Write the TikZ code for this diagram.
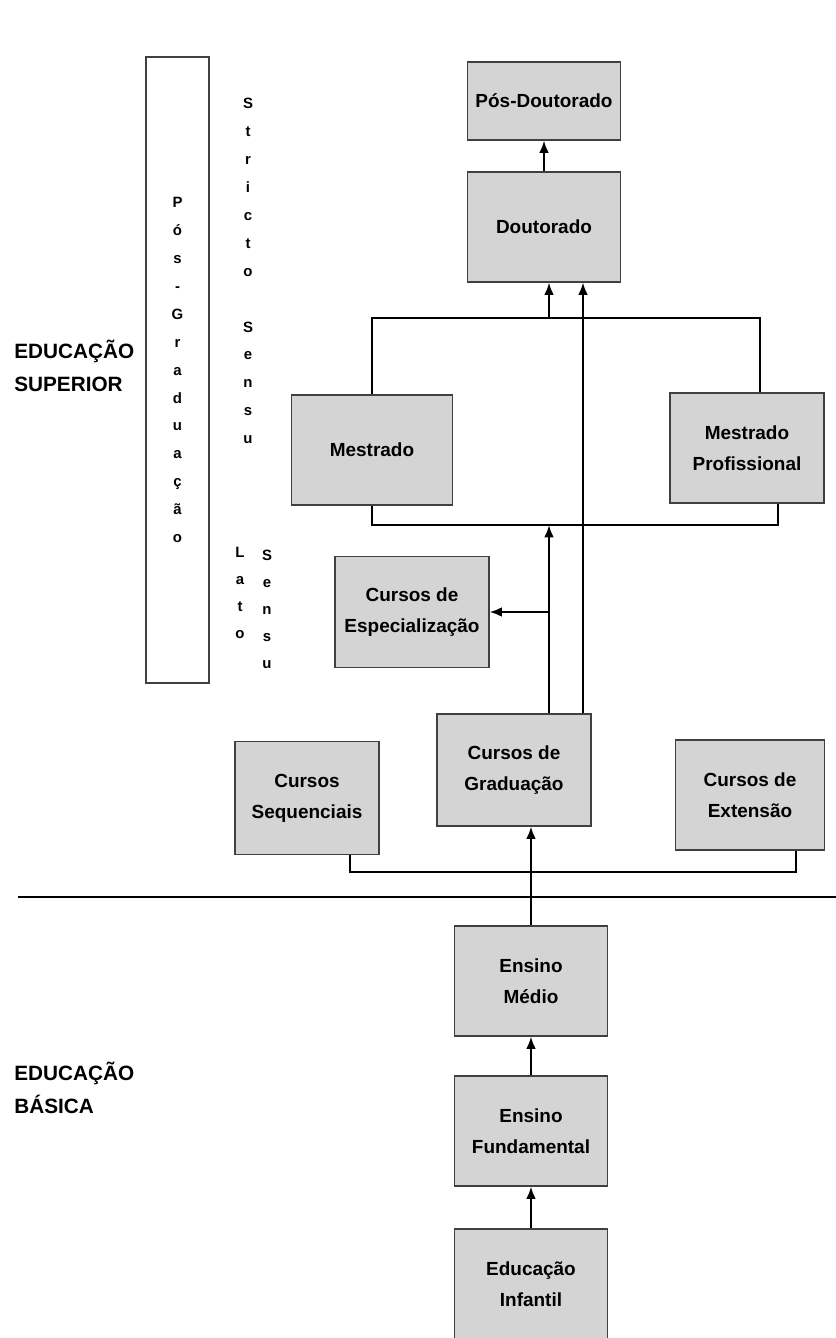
\documentclass[tikz,border=0pt]{standalone}
\usepackage{fontspec}
\setmainfont{Liberation Sans}
\usetikzlibrary{arrows.meta}
\definecolor{cinza}{RGB}{212,212,212}

\begin{document}
\begin{tikzpicture}[node distance=3cm]
\tikzstyle{nivel} = [rectangle, minimum width=3.06cm, minimum height=2.2cm, text centered, align=center, draw=black!75, line width=0.6pt, fill=cinza, font=\bfseries\fontsize{10.8}{17.5}\selectfont]
\tikzstyle{vertical} = [align=center, inner sep=0pt, font=\bfseries\fontsize{8.5}{15.9}\selectfont]
\tikzstyle{rotulo} = [anchor=west, align=left, inner sep=0pt, font=\bfseries\fontsize{11.8}{18.5}\selectfont]
\tikzstyle{seta} = [line width=1.2pt,->,>={Latex[length=7pt,width=5.5pt]}]
\tikzstyle{linha} = [line width=1.2pt]
\useasboundingbox (0,0) rectangle (16.72,-26.76);
 %caixas dos niveis
\node (posdoc) [nivel, minimum height=1.56cm] at (10.88,-2.02) {Pós-Doutorado};
\node (dout) [nivel] at (10.88,-4.54) {Doutorado};
\node (mest) [nivel, minimum width=3.22cm] at (7.44,-9.0) {Mestrado};
\node (mprof) [nivel, minimum width=3.08cm] at (14.94,-8.96) {Mestrado\\Profissional};
\node (espec) [nivel, minimum width=3.08cm, minimum height=2.22cm] at (8.24,-12.24) {Cursos de\\Especialização};
\node (grad) [nivel, minimum width=3.08cm, minimum height=2.24cm] at (10.28,-15.4) {Cursos de\\Graduação};
\node (seq) [nivel, minimum width=2.88cm, minimum height=2.26cm] at (6.14,-15.96) {Cursos\\Sequenciais};
\node (ext) [nivel, minimum width=2.98cm] at (15.0,-15.9) {Cursos de\\Extensão};
\node (medio) [nivel] at (10.62,-19.62) {Ensino\\Médio};
\node (fund) [nivel, below of=medio] {Ensino\\Fundamental};
\node (infantil) [nivel, below of=fund, yshift=-0.06cm] {Educação\\Infantil};

 %textos laterais
\node (posgrad) [vertical, draw=black!75, line width=0.6pt, fill=white, minimum width=1.26cm, minimum height=12.52cm] at (3.55,-7.4) {P\\ó\\s\\-\\G\\r\\a\\d\\u\\a\\ç\\ã\\o};
\node (stricto) [vertical] at (4.96,-5.42) {S\\t\\r\\i\\c\\t\\o\\[15.9pt]S\\e\\n\\s\\u};
\node (lato) [vertical, font=\bfseries\fontsize{8.5}{15.4}\selectfont] at (4.8,-11.86) {L\\a\\t\\o};
\node (sensu) [vertical, font=\bfseries\fontsize{8.5}{15.4}\selectfont] at (5.34,-12.18) {S\\e\\n\\s\\u};
\node (superior) [rotulo] at (0.28,-7.32) {EDUCAÇÃO\\SUPERIOR};
\node (basica) [rotulo] at (0.28,-21.76) {EDUCAÇÃO\\BÁSICA};

 %pontos auxiliares
\coordinate (topbar) at (0,-6.36);
\coordinate (botbar) at (0,-10.5);
\coordinate (basebar) at (0,-17.44);
\coordinate (sepL) at (0.36,-17.94);
\coordinate (sepR) at (16.72,-17.94);
\coordinate (mpT) at ([xshift=0.26cm]mprof.north);
\coordinate (mpB) at ([xshift=0.62cm]mprof.south);
\coordinate (gA) at ([xshift=0.7cm]grad.north);
\coordinate (gB) at ([xshift=1.38cm]grad.north);
\coordinate (sB) at ([xshift=0.86cm]seq.south);
\coordinate (eB) at ([xshift=0.92cm]ext.south);

 %ligacoes
\draw [seta](dout) -- (posdoc);
\draw [linha](mest.north) |- (topbar -| mpT) -- (mpT);
\draw [seta](topbar -| gA) -- (dout.south -| gA);
\draw [seta](gB) -- (dout.south -| gB);
\draw [linha](mest.south) |- (botbar -| mpB) -- (mpB);
\draw [seta](gA) -- (botbar -| gA);
\draw [seta](gA |- espec.east) -- (espec.east);
\draw [linha](sB) |- (basebar -| eB) -- (eB);
\draw [linha](sepL) -- (sepR);
\draw [seta](medio.north) -- (medio.north |- grad.south);
\draw [seta](fund) -- (medio);
\draw [seta](infantil) -- (fund);
\end{tikzpicture}
\end{document}
